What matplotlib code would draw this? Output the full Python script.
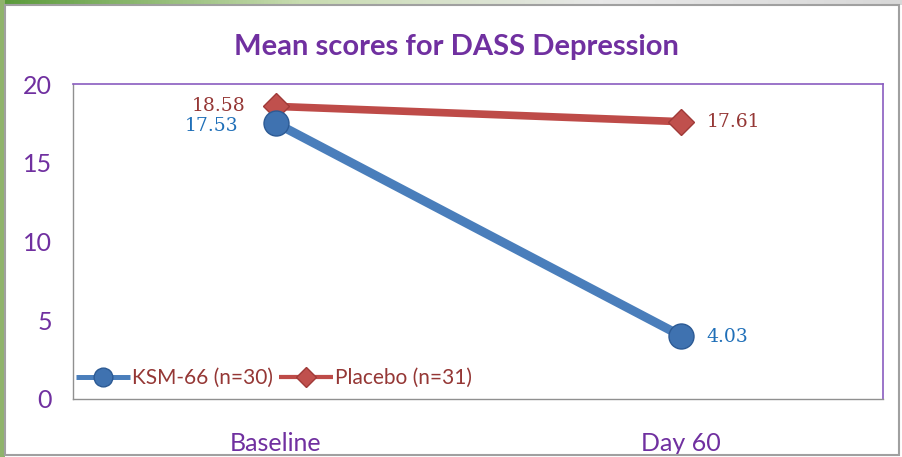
import matplotlib
matplotlib.use("Agg")
import matplotlib.pyplot as plt
from matplotlib.patches import Rectangle
from matplotlib.colors import LinearSegmentedColormap
import numpy as np

categories = ["Baseline", "Day 60"]
ksm_values = [17.53, 4.03]
placebo_values = [18.58, 17.61]
ksm_label = "KSM-66 (n=30)"
placebo_label = "Placebo (n=31)"
yticks = [0, 5, 10, 15, 20]
title = "Mean scores for DASS Depression"

W, H = 902, 457
fig = plt.figure(figsize=(W / 100, H / 100), dpi=100)
fig.patch.set_facecolor("white")

# frame decorations
fig.patches.append(Rectangle((0, 0), 5 / W, 1, transform=fig.transFigure,
                             facecolor="#8fb36b", edgecolor="none", zorder=0))
grad = np.linspace(0, 1, 256).reshape(1, -1)
ax_bg = fig.add_axes([0, 1 - 5 / H, 1, 5 / H])
cm = LinearSegmentedColormap.from_list("g", ["#5a9a3a", "#c8dcb0", "#e8e8e8", "#d8d8d8"])
ax_bg.imshow(grad, aspect="auto", cmap=cm)
ax_bg.axis("off")
fig.patches.append(Rectangle((5 / W, 2 / H), (W - 8) / W, (H - 7) / H, transform=fig.transFigure,
                             facecolor="none", edgecolor="#a0a0a0", linewidth=1.5, zorder=1))

left, right, top, bottom = 73, 883, 84, 399
ax = fig.add_axes([left / W, 1 - bottom / H, (right - left) / W, (bottom - top) / H])
x = np.arange(len(categories))

purple = "#7030A0"
blue_line = "#4A7EBB"
red_line = "#BE4B48"
blue_txt = "#1F6FB8"
red_txt = "#953735"

ax.plot(x, placebo_values, color=red_line, lw=5.5, marker="D", markersize=13,
        markerfacecolor="#C0504D", markeredgecolor="#A03a38", solid_capstyle="butt",
        label=placebo_label, zorder=3)
ax.plot(x, ksm_values, color=blue_line, lw=6.5, marker="o", markersize=18,
        markerfacecolor="#3F72B0", markeredgecolor="#2c5a94", solid_capstyle="butt",
        label=ksm_label, zorder=4)

serif = ["DejaVu Serif"]
fs_lab = 13.5
ax.annotate(f"{placebo_values[0]:.2f}", (x[0], placebo_values[0]), xytext=(-21.6, 0),
            textcoords="offset points", ha="right", va="center", color=red_txt,
            fontsize=fs_lab, family=serif)
ax.annotate(f"{ksm_values[0]:.2f}", (x[0], ksm_values[0]), xytext=(-26.6, -2),
            textcoords="offset points", ha="right", va="center", color=blue_txt,
            fontsize=fs_lab, family=serif)
ax.annotate(f"{placebo_values[1]:.2f}", (x[1], placebo_values[1]), xytext=(18.7, 0),
            textcoords="offset points", ha="left", va="center", color=red_txt,
            fontsize=fs_lab, family=serif)
ax.annotate(f"{ksm_values[1]:.2f}", (x[1], ksm_values[1]), xytext=(18.7, -1),
            textcoords="offset points", ha="left", va="center", color=blue_txt,
            fontsize=fs_lab, family=serif)

ax.set_xlim(-0.5, 1.5)
ax.set_ylim(0, 20)
ax.set_yticks(yticks)
ax.set_yticklabels([str(v) for v in yticks], color=purple, fontsize=18, family="Lato")
ax.set_xticks(x)
ax.set_xticklabels(categories, color=purple, fontsize=18, family="Lato")
ax.tick_params(axis="x", length=0, pad=24)
ax.tick_params(axis="y", length=0, pad=15)
for s in ["top", "right"]:
    ax.spines[s].set_color("#8a5cc0")
    ax.spines[s].set_linewidth(1.2)
for s in ["left", "bottom"]:
    ax.spines[s].set_color("#909090")
    ax.spines[s].set_linewidth(1.0)

h, l = ax.get_legend_handles_labels()
leg = ax.legend(h[::-1], l[::-1], loc="lower left", bbox_to_anchor=(-0.02, -0.025), ncol=2,
                frameon=False, handlelength=2.6, columnspacing=0.3,
                handletextpad=0.1, prop={"family": "Lato", "size": 15})
for t in leg.get_texts():
    t.set_color(red_txt)
for lh in leg.legend_handles:
    lh.set_markersize(lh.get_markersize() * 0.75)
    lh.set_linewidth(lh.get_linewidth() * 0.55)

fig.text(456 / W, 1 - 47 / H, title, ha="center", va="center",
         color=purple, fontsize=21, fontweight="bold", family="Lato")

fig.savefig("out.png", dpi=100)
